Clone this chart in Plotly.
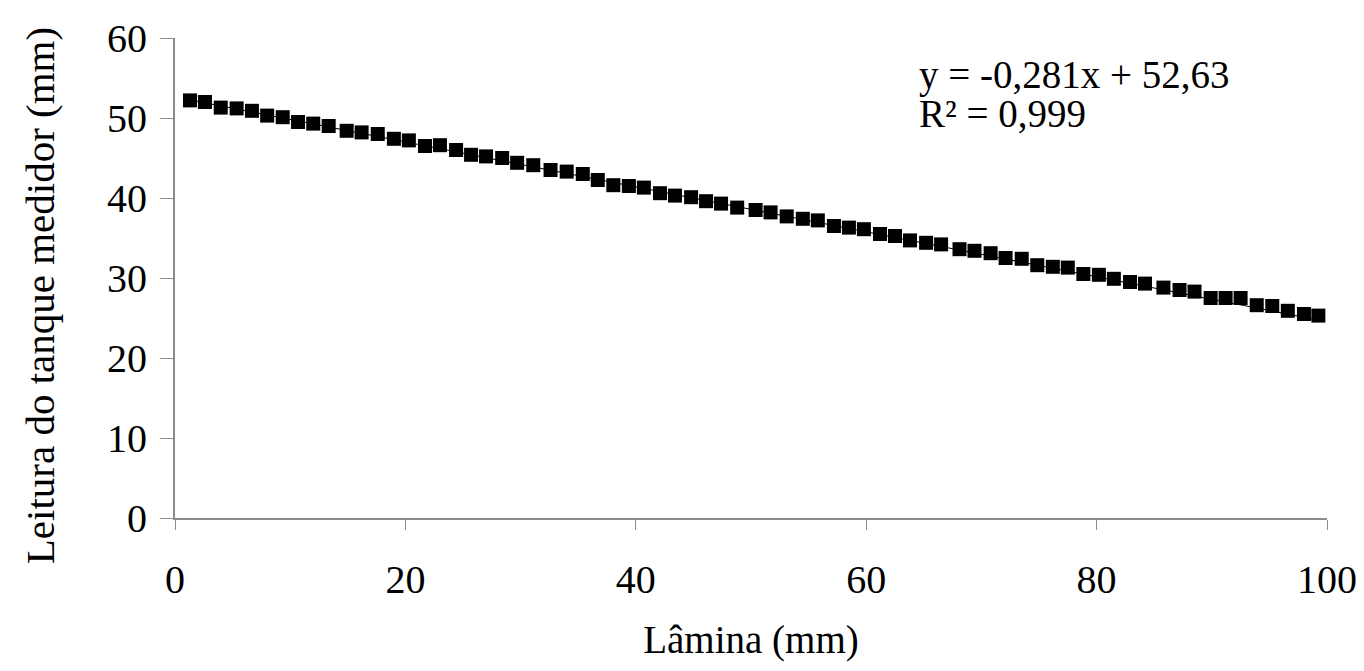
import plotly.graph_objects as go

# Data
lamina = [1.3, 2.6, 3.97, 5.35, 6.68, 8.0, 9.35, 10.68, 12.0, 13.34, 14.9, 16.2, 17.6,
          19.0, 20.3, 21.7, 23.0, 24.4, 25.7, 27.0, 28.4, 29.7, 31.1, 32.6, 34.0, 35.4,
          36.7, 38.05, 39.4, 40.7, 42.1, 43.4, 44.8, 46.1, 47.4, 48.8, 50.4, 51.7, 53.1,
          54.5, 55.8, 57.2, 58.5, 59.8, 61.2, 62.5, 63.8, 65.2, 66.5, 68.1, 69.4, 70.8,
          72.1, 73.5, 74.85, 76.2, 77.5, 78.85, 80.2, 81.5, 82.9, 84.2, 85.8, 87.2, 88.5,
          89.9, 91.2, 92.5, 93.9, 95.25, 96.6, 98.0, 99.25]
leitura = [52.2, 52.0, 51.3, 51.2, 50.9, 50.3, 50.1, 49.5, 49.3, 49.0, 48.4, 48.2, 48.0,
           47.4, 47.2, 46.5, 46.6, 46.0, 45.4, 45.2, 45.0, 44.4, 44.1, 43.5, 43.3, 43.0,
           42.25, 41.6, 41.5, 41.3, 40.6, 40.3, 40.1, 39.6, 39.3, 38.8, 38.5, 38.2, 37.7,
           37.4, 37.2, 36.5, 36.3, 36.1, 35.5, 35.25, 34.7, 34.4, 34.2, 33.6, 33.4, 33.1,
           32.5, 32.4, 31.6, 31.4, 31.3, 30.5, 30.4, 29.9, 29.5, 29.3, 28.8, 28.5, 28.3,
           27.5, 27.5, 27.5, 26.6, 26.5, 25.9, 25.5, 25.3]
slope = -0.281
intercept = 52.63
eq_line1 = "y = -0,281x + 52,63"
eq_line2 = "R² = 0,999"
x_title = "Lâmina (mm)"
y_title = "Leitura do tanque medidor (mm)"
x_ticks = [0, 20, 40, 60, 80, 100]
y_ticks = [0, 10, 20, 30, 40, 50, 60]

FONT = "Liberation Serif, Times New Roman, serif"

trend_x = [lamina[0], lamina[-1]]
trend_y = [slope * v + intercept for v in trend_x]

fig = go.Figure()
fig.add_trace(go.Scatter(x=trend_x, y=trend_y, mode="lines",
                         line=dict(color="black", width=1), showlegend=False,
                         hoverinfo="skip"))
fig.add_trace(go.Scatter(x=lamina, y=leitura, mode="markers",
                         marker=dict(symbol="square", size=14, color="black",
                                     line=dict(width=0)),
                         showlegend=False))

for txt, ypos in [(eq_line1, 0.923), (eq_line2, 0.842)]:
    fig.add_annotation(x=0.644, y=ypos, xref="paper", yref="paper",
                       xanchor="left", yanchor="middle", align="left", showarrow=False,
                       text=txt, font=dict(family=FONT, size=39, color="black"))

# y-axis title (placed as rotated text, slightly below the axis centre as in the reference)
fig.add_annotation(x=-0.117, y=0.4625, xref="paper", yref="paper",
                   xanchor="center", yanchor="middle", textangle=-90, showarrow=False,
                   text=y_title, font=dict(family=FONT, size=41, color="black"))

fig.update_layout(
    width=1356, height=663,
    margin=dict(l=167, r=37, t=30, b=153),
    paper_bgcolor="white", plot_bgcolor="white",
    font=dict(family=FONT, size=40, color="black"),
    xaxis=dict(range=[0, 100], tickvals=x_ticks, showgrid=False, zeroline=False,
               automargin=False,
               showline=True, linecolor="#8c8c8c", linewidth=2,
               ticks="outside", ticklen=10, tickcolor="#8c8c8c", tickwidth=1,
               ticklabelstandoff=15, tickfont=dict(family=FONT, size=40),
               title=dict(text=x_title, standoff=25,
                          font=dict(family=FONT, size=39))),
    yaxis=dict(range=[0, 60], tickvals=y_ticks, showgrid=False, zeroline=False,
               automargin=False,
               showline=True, linecolor="#8c8c8c", linewidth=2,
               ticks="outside", ticklen=13, tickcolor="#8c8c8c", tickwidth=1,
               ticklabelstandoff=5, tickfont=dict(family=FONT, size=40)),
)

fig.write_html("out.html")
